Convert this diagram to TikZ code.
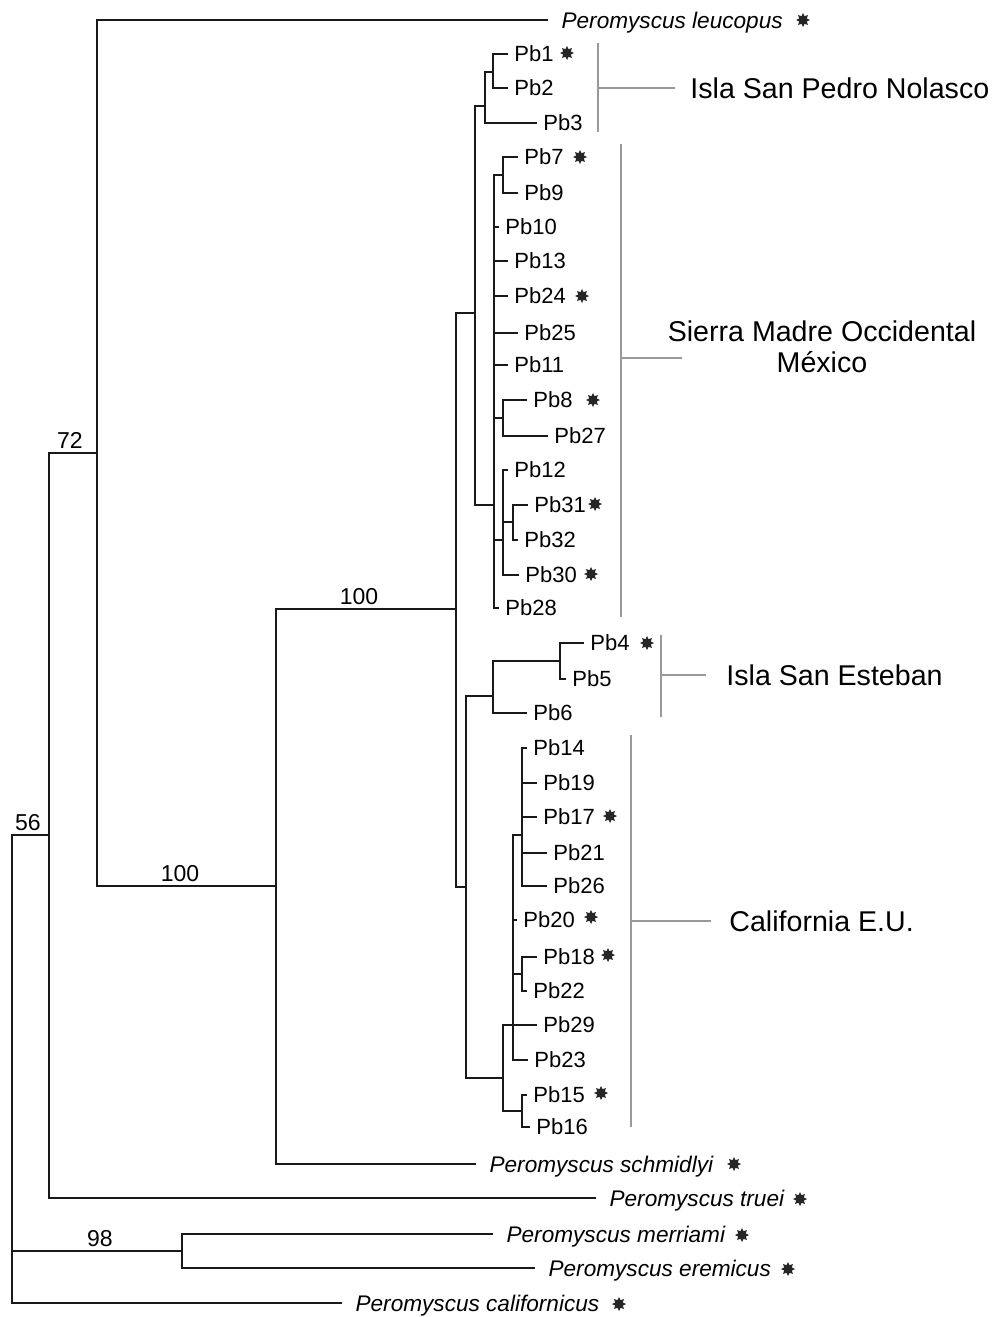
\documentclass[tikz,border=0pt]{standalone}
\usepackage{fontspec}
\setmainfont{Liberation Sans}
\usetikzlibrary{shapes.geometric}
\begin{document}
\begin{tikzpicture}[x=0.5pt,y=-0.5pt,
    branch/.style={line width=1.1pt,black!90},
    leaf/.style={anchor=west,inner xsep=3.2pt,inner ysep=0pt,outer sep=0pt,text height=7.9pt,text depth=0pt,font=\fontsize{11}{13}\selectfont},
    species/.style={leaf,inner xsep=6.8pt,text height=8.1pt,font=\fontsize{11.3}{13}\selectfont\itshape},
    boot/.style={anchor=south,inner sep=2pt,text depth=0pt,font=\fontsize{11.5}{13}\selectfont},
    clade/.style={inner sep=0pt,align=center,font=\fontsize{14.3}{15.5}\selectfont},
    bracket/.style={line width=0.6pt,black!40},
    starmark/.style={star,star points=8,star point ratio=1.7,fill=black!85,inner sep=0pt,minimum size=7pt}]
    \useasboundingbox (0,0) rectangle (995,1317);
    \coordinate (root) at (12,1069);
    \coordinate (n56) at (49,835);
    \coordinate (n72) at (97,453);
    \coordinate (n98) at (182,1251);
    \coordinate (nL) at (276,886);
    \coordinate (nU) at (456,609);
    \coordinate (nA) at (475,313);
    \coordinate (nNol) at (485,106);
    \coordinate (n12) at (493,72);
    \coordinate (nSM) at (494,505);
    \coordinate (n79) at (503,175);
    \coordinate (n827) at (503,418);
    \coordinate (nB) at (503,540);
    \coordinate (n3132) at (513,522);
    \coordinate (nE) at (466,887);
    \coordinate (nEst) at (493,696);
    \coordinate (n45) at (560,661);
    \coordinate (nCal) at (503,1078);
    \coordinate (nC1) at (513,1025);
    \coordinate (nC2) at (522,835);
    \coordinate (n1822) at (522,974);
    \coordinate (n1516) at (522,1111);
    \node[species] (leu) at (548,20) {Peromyscus leucopus};
    \node[species] (sch) at (476,1164) {Peromyscus schmidlyi};
    \node[species] (tru) at (596,1198) {Peromyscus truei};
    \node[species] (mer) at (493,1234) {Peromyscus merriami};
    \node[species] (ere) at (535,1268) {Peromyscus eremicus};
    \node[species] (cal) at (342,1303) {Peromyscus californicus};
    \node[leaf] (pb1) at (508,54) {Pb1};
    \node[leaf] (pb2) at (508,88) {Pb2};
    \node[leaf] (pb3) at (537,123) {Pb3};
    \node[leaf] (pb7) at (518,157) {Pb7};
    \node[leaf] (pb9) at (518,193) {Pb9};
    \node[leaf] (pb10) at (499,227) {Pb10};
    \node[leaf] (pb13) at (508,261) {Pb13};
    \node[leaf] (pb24) at (508,296) {Pb24};
    \node[leaf] (pb25) at (518,333) {Pb25};
    \node[leaf] (pb11) at (508,365) {Pb11};
    \node[leaf] (pb8) at (527,400) {Pb8};
    \node[leaf] (pb27) at (548,436) {Pb27};
    \node[leaf] (pb12) at (508,470) {Pb12};
    \node[leaf] (pb31) at (528,505) {Pb31};
    \node[leaf] (pb32) at (518,540) {Pb32};
    \node[leaf] (pb30) at (519,575) {Pb30};
    \node[leaf] (pb28) at (499,608) {Pb28};
    \node[leaf] (pb4) at (584,643) {Pb4};
    \node[leaf] (pb5) at (566,679) {Pb5};
    \node[leaf] (pb6) at (527,713) {Pb6};
    \node[leaf] (pb14) at (527,748) {Pb14};
    \node[leaf] (pb19) at (537,783) {Pb19};
    \node[leaf] (pb17) at (537,817) {Pb17};
    \node[leaf] (pb21) at (547,853) {Pb21};
    \node[leaf] (pb26) at (547,886) {Pb26};
    \node[leaf] (pb20) at (517,920) {Pb20};
    \node[leaf] (pb18) at (537,957) {Pb18};
    \node[leaf] (pb22) at (527,991) {Pb22};
    \node[leaf] (pb29) at (537,1025) {Pb29};
    \node[leaf] (pb23) at (528,1060) {Pb23};
    \node[leaf] (pb15) at (527,1095) {Pb15};
    \node[leaf] (pb16) at (530,1127) {Pb16};
    \draw[branch] (root) |- (n56) (root) |- (n98) (root) |- (cal.west);
    \draw[branch] (n56) |- (n72) (n56) |- (tru.west);
    \draw[branch] (n72) |- (leu.west) (n72) |- (nL);
    \draw[branch] (nL) |- (nU) (nL) |- (sch.west);
    \draw[branch] (n98) |- (mer.west) (n98) |- (ere.west);
    \draw[branch] (nU) |- (nA) (nU) |- (nE);
    \draw[branch] (nA) |- (nNol) (nA) |- (nSM);
    \draw[branch] (nNol) |- (n12) (nNol) |- (pb3.west);
    \draw[branch] (n12) |- (pb1.west) (n12) |- (pb2.west);
    \draw[branch] (nSM) |- (n79) (nSM) |- (pb10.west) (nSM) |- (pb13.west) (nSM) |- (pb24.west) (nSM) |- (pb25.west)
        (nSM) |- (pb11.west) (nSM) |- (n827) (nSM) |- (nB) (nSM) |- (pb28.west);
    \draw[branch] (n79) |- (pb7.west) (n79) |- (pb9.west);
    \draw[branch] (n827) |- (pb8.west) (n827) |- (pb27.west);
    \draw[branch] (nB) |- (pb12.west) (nB) |- (n3132) (nB) |- (pb30.west);
    \draw[branch] (n3132) |- (pb31.west) (n3132) |- (pb32.west);
    \draw[branch] (nE) |- (nEst) (nE) |- (nCal);
    \draw[branch] (nEst) |- (n45) (nEst) |- (pb6.west);
    \draw[branch] (n45) |- (pb4.west) (n45) |- (pb5.west);
    \draw[branch] (nCal) |- (nC1) (nCal) |- (n1516);
    \draw[branch] (nC1) |- (nC2) (nC1) |- (pb20.west) (nC1) |- (n1822) (nC1) |- (pb29.west) (nC1) |- (pb23.west);
    \draw[branch] (nC2) |- (pb14.west) (nC2) |- (pb19.west) (nC2) |- (pb17.west) (nC2) |- (pb21.west) (nC2) |- (pb26.west);
    \draw[branch] (n1822) |- (pb18.west) (n1822) |- (pb22.west);
    \draw[branch] (n1516) |- (pb15.west) (n1516) |- (pb16.west);
    \node[boot] (b56) at (28,835) {56};
    \node[boot] (b72) at (70,453) {72};
    \node[boot] (b98) at (100,1251) {98};
    \node[boot] (b100a) at (180,886) {100};
    \node[boot] (b100b) at (359,609) {100};
    \node[starmark] (s1) at (567,53) {};
    \node[starmark] (s7) at (580,157) {};
    \node[starmark] (s24) at (582,296) {};
    \node[starmark] (s8) at (593,400) {};
    \node[starmark] (s31) at (595,504) {};
    \node[starmark] (s30) at (591,574) {};
    \node[starmark] (s4) at (647,643) {};
    \node[starmark] (s17) at (610,816) {};
    \node[starmark] (s20) at (591,917) {};
    \node[starmark] (s18) at (608,955) {};
    \node[starmark] (s15) at (601,1093) {};
    \node[starmark] (sLeu) at (803,20) {};
    \node[starmark] (sSch) at (734,1164) {};
    \node[starmark] (sTru) at (800,1199) {};
    \node[starmark] (sMer) at (742,1235) {};
    \node[starmark] (sEre) at (788,1269) {};
    \node[starmark] (sCal) at (619,1304) {};
    \node[clade,anchor=west] (cNol) at (690,88) {Isla San Pedro Nolasco};
    \node[clade] (cSM) at (822,347) {Sierra Madre Occidental\\México};
    \node[clade,anchor=west] (cEst) at (726,675) {Isla San Esteban};
    \node[clade,anchor=west] (cCal) at (729,921) {California E.U.};
    \coordinate (kNol) at (675,88);
    \coordinate (kSM) at (682,358);
    \coordinate (kEst) at (706,675);
    \coordinate (kCal) at (711,921);
    \draw[bracket] (598,43) -- (598,132) (598,88) -- (kNol);
    \draw[bracket] (621,144) -- (621,617) (621,358) -- (kSM);
    \draw[bracket] (661,635) -- (661,717) (661,675) -- (kEst);
    \draw[bracket] (631,735) -- (631,1127) (631,921) -- (kCal);
\end{tikzpicture}
\end{document}
